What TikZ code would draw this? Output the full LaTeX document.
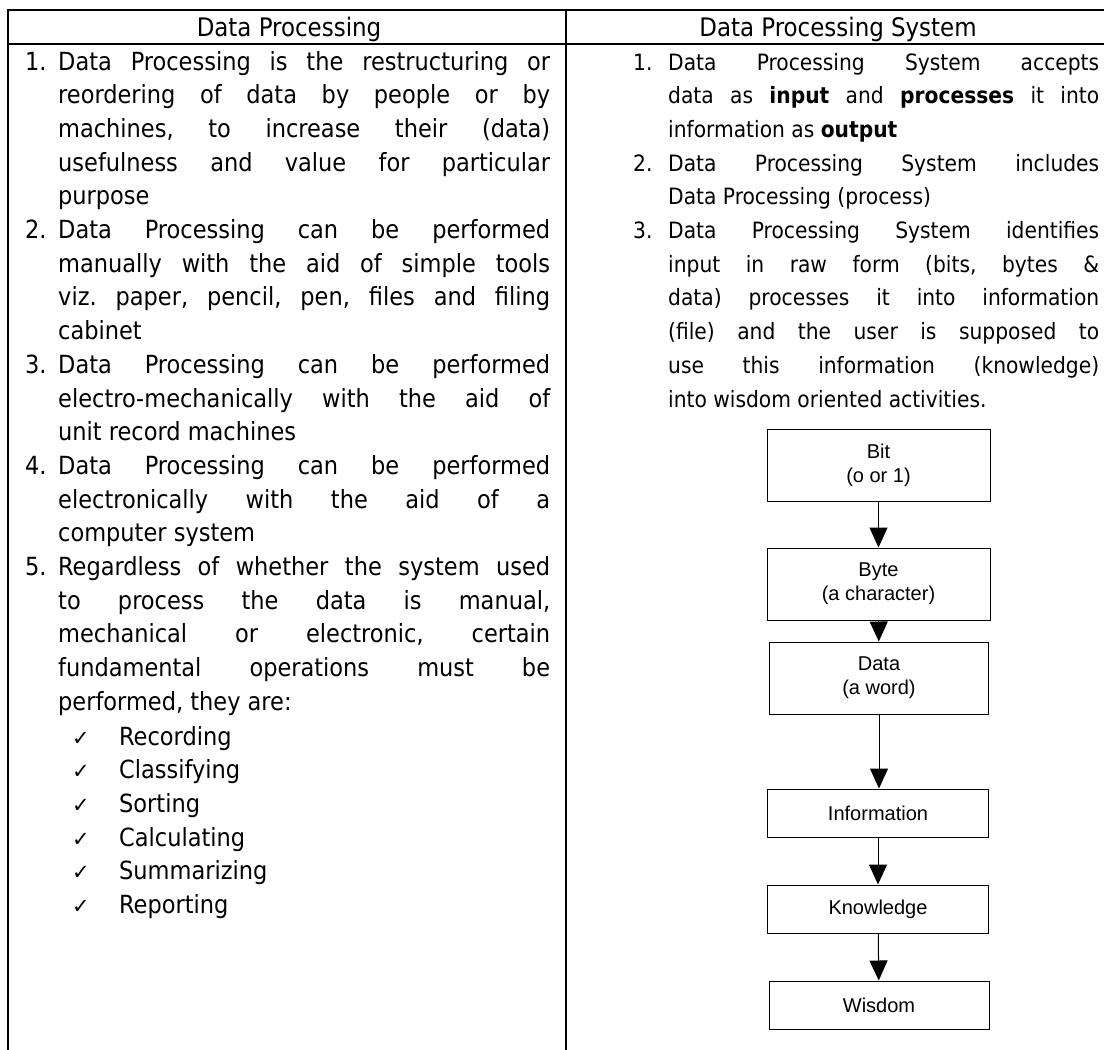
\documentclass[tikz,border=0pt]{standalone}
\usepackage{fontspec}
\IfFontExistsTF{DejaVu Sans Condensed}{\setmainfont{DejaVu Sans Condensed}}{\setmainfont{DejaVu Sans}[FakeStretch=0.9]}
\newfontfamily\symfont{DejaVu Sans}
\newfontfamily\boxfont{Liberation Sans}
\usetikzlibrary{arrows.meta}
\newcommand{\jb}[2]{\hbox to #1pt{#2}}
\newcommand{\chk}{{\symfont\fontsize{21}{24}\selectfont ✓}}
\frenchspacing
\begin{document}
\frenchspacing
\begin{tikzpicture}[x=1pt,y=-1pt,
 rule/.style={line width=1.8pt},
 ltxt/.style={anchor=base west, inner sep=0pt, font=\fontsize{25}{29}\selectfont},
 rtxt/.style={anchor=base west, inner sep=0pt, font=\fontsize{22.5}{27}\selectfont},
 hdr/.style={anchor=base, inner sep=0pt, font=\fontsize{25.5}{29}\selectfont},
 flowbox/.style={draw, line width=1pt, inner sep=0pt, align=center, font=\boxfont\fontsize{20}{24}\selectfont},
 arr/.style={line width=1pt, -{Triangle[length=20pt,width=18pt]}}]
\useasboundingbox (0,0) rectangle (1104,1050);
\fill[white] (0,0) rectangle (1104,1050);
% table rules
\draw[rule] (8,10) -- (1104,10);
\draw[rule] (8,44) -- (1104,44);
\draw[rule] (8,9.1) -- (8,1050);
\draw[rule] (566,9.1) -- (566,1050);
% headers
\node[hdr] (h1) at (289,36) {Data Processing};
\node[hdr] (h2) at (838,36) {Data Processing System};
% left column
\node[ltxt] (n1) at (25,70) {1.};
\node[ltxt] (l1) at (58,70) {\jb{492}{Data Processing is the restructuring or}};
\node[ltxt] (l2) at (58,103.7) {\jb{492}{reordering of data by people or by}};
\node[ltxt] (l3) at (58,137.4) {\jb{492}{machines, to increase their (data)}};
\node[ltxt] (l4) at (58,171.1) {\jb{492}{usefulness and value for particular}};
\node[ltxt] (l5) at (58,204.8) {purpose};
\node[ltxt] (n2) at (25,238.5) {2.};
\node[ltxt] (l6) at (58,238.5) {\jb{492}{Data Processing can be performed}};
\node[ltxt] (l7) at (58,272.2) {\jb{492}{manually with the aid of simple tools}};
\node[ltxt] (l8) at (58,305.9) {\jb{492}{viz. paper, pencil, pen, files and filing}};
\node[ltxt] (l9) at (58,339.6) {cabinet};
\node[ltxt] (n3) at (25,373.3) {3.};
\node[ltxt] (l10) at (58,373.3) {\jb{492}{Data Processing can be performed}};
\node[ltxt] (l11) at (58,407) {\jb{492}{electro-mechanically with the aid of}};
\node[ltxt] (l12) at (58,440.7) {unit record machines};
\node[ltxt] (n4) at (25,474.4) {4.};
\node[ltxt] (l13) at (58,474.4) {\jb{492}{Data Processing can be performed}};
\node[ltxt] (l14) at (58,508.1) {\jb{492}{electronically with the aid of a}};
\node[ltxt] (l15) at (58,541.8) {computer system};
\node[ltxt] (n5) at (25,575.5) {5.};
\node[ltxt] (l16) at (58,575.5) {\jb{492}{Regardless of whether the system used}};
\node[ltxt] (l17) at (58,609.2) {\jb{492}{to process the data is manual,}};
\node[ltxt] (l18) at (58,642.9) {\jb{492}{mechanical or electronic, certain}};
\node[ltxt] (l19) at (58,676.6) {\jb{492}{fundamental operations must be}};
\node[ltxt] (l20) at (58,710.3) {performed, they are:};
\node[ltxt] (c1) at (72,745) {\chk};
\node[ltxt] (t1) at (119,745) {Recording};
\node[ltxt] (c2) at (72,778.7) {\chk};
\node[ltxt] (t2) at (119,778.7) {Classifying};
\node[ltxt] (c3) at (72,812.4) {\chk};
\node[ltxt] (t3) at (119,812.4) {Sorting};
\node[ltxt] (c4) at (72,846.1) {\chk};
\node[ltxt] (t4) at (119,846.1) {Calculating};
\node[ltxt] (c5) at (72,879.8) {\chk};
\node[ltxt] (t5) at (119,879.8) {Summarizing};
\node[ltxt] (c6) at (72,913.5) {\chk};
\node[ltxt] (t6) at (119,913.5) {Reporting};
% right column
\node[rtxt] (m1) at (633,70) {1.};
\node[rtxt] (r1) at (668,70) {\jb{431}{Data Processing System accepts}};
\node[rtxt] (r2) at (668,103.7) {\jb{431}{data as \textbf{input} and \textbf{processes} it into}};
\node[rtxt] (r3) at (668,137.4) {information as \textbf{output}};
\node[rtxt] (m2) at (633,171.1) {2.};
\node[rtxt] (r4) at (668,171.1) {\jb{431}{Data Processing System includes}};
\node[rtxt] (r5) at (668,204.8) {Data Processing (process)};
\node[rtxt] (m3) at (633,238.5) {3.};
\node[rtxt] (r6) at (668,238.5) {\jb{431}{Data Processing System identifies}};
\node[rtxt] (r7) at (668,272.2) {\jb{431}{input in raw form (bits, bytes \&}};
\node[rtxt] (r8) at (668,305.9) {\jb{431}{data) processes it into information}};
\node[rtxt] (r9) at (668,339.6) {\jb{431}{(file) and the user is supposed to}};
\node[rtxt] (r10) at (668,373.3) {\jb{431}{use this information (knowledge)}};
\node[rtxt] (r11) at (668,407) {into wisdom oriented activities.};
% flowchart
\node[flowbox, minimum width=223pt, minimum height=72pt] (bit) at (878.5,465) {Bit\\(o or 1)};
\node[flowbox, minimum width=223pt, minimum height=72pt] (byte) at (878.5,584) {Byte\\(a character)};
\node[flowbox, minimum width=219pt, minimum height=72pt] (data) at (879,678) {Data\\(a word)};
\node[flowbox, minimum width=221pt, minimum height=48pt] (info) at (878,813) {Information};
\node[flowbox, minimum width=221pt, minimum height=48pt] (know) at (878,909) {Knowledge};
\node[flowbox, minimum width=220pt, minimum height=48pt] (wis) at (879,1005) {Wisdom};
\draw[arr] (bit) -- (byte);
\draw[arr] (byte) -- (data);
\draw[arr] (data.south) -- (data.south |- info.north);
\draw[arr] (info) -- (know);
\draw[arr] (know) -- (wis);
\end{tikzpicture}
\end{document}
